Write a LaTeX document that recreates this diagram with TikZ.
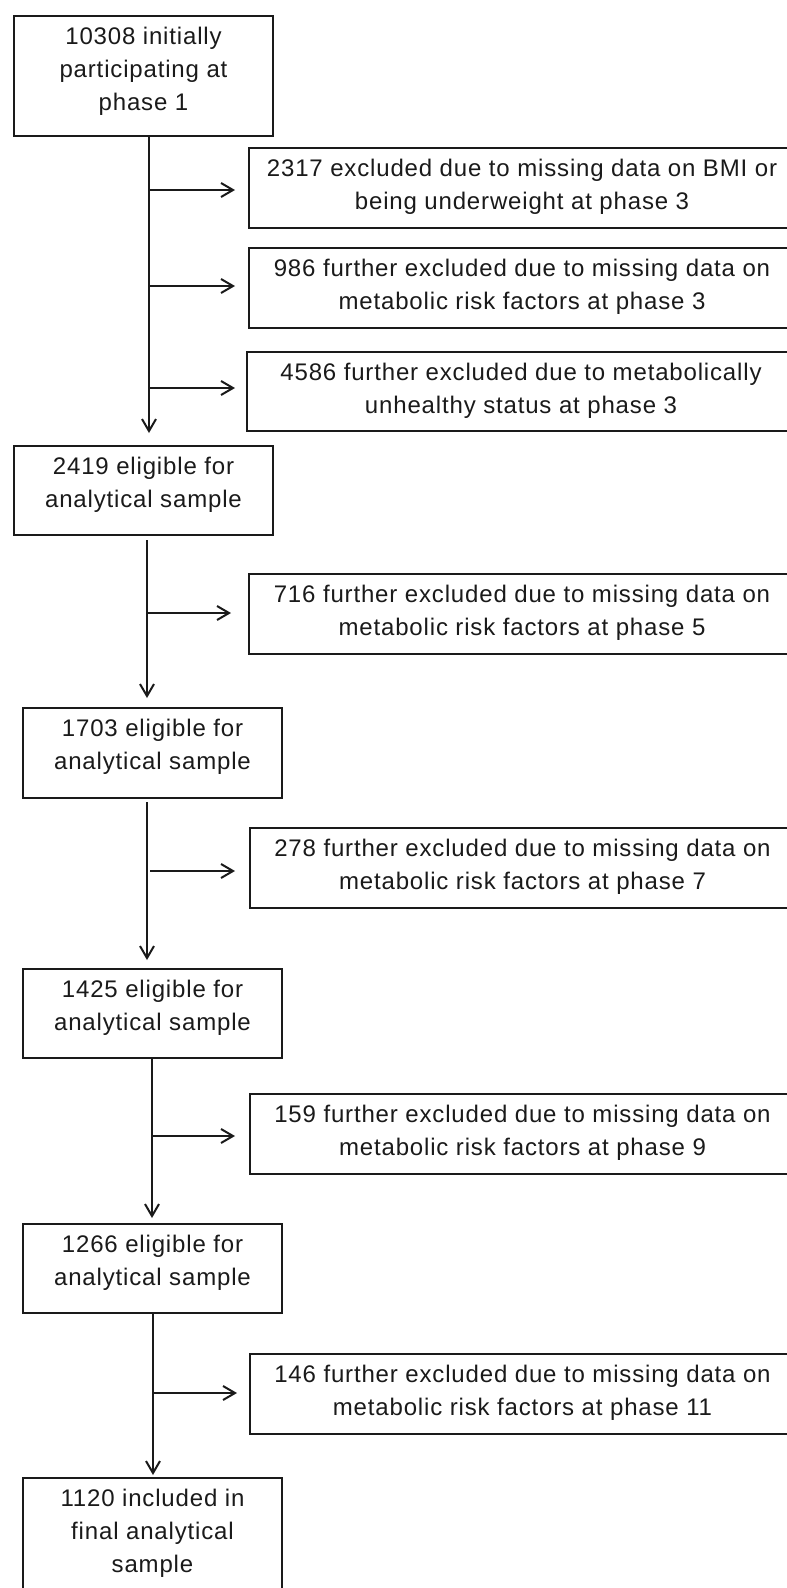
\documentclass[tikz,border=0pt]{standalone}
\usepackage{fontspec}
\setmainfont{Liberation Sans}[LetterSpace=3.5]
\usetikzlibrary{arrows.meta}
\definecolor{ink}{HTML}{1A1A1A}
% top-aligned text block of fixed size: first baseline 28pt below the top
\newcommand{\boxtxt}[3]{\parbox[c][#2][t]{#1}{\centering\rule{0pt}{28pt}#3}}
\begin{document}
\begin{tikzpicture}[x=1pt,y=-1pt,
  stagebox/.style={draw=ink, line width=2pt, inner sep=0pt, anchor=north west,
    text=ink, font=\fontsize{24pt}{33pt}\selectfont},
  arr/.style={draw=ink, line width=2pt, -{Straight Barb[length=12pt,width=14pt,line width=2pt]}}]
\useasboundingbox (0,0) rectangle (787,1588);
\clip (0,0) rectangle (787,1588);
\fill[white] (0,0) rectangle (787,1588);

% main column
\node[stagebox] (b1) at (13,15)   {\boxtxt{259pt}{120pt}{10308 initially\\participating at\\phase 1}};
\node[stagebox] (b2) at (13,445)  {\boxtxt{259pt}{89pt}{2419 eligible for\\analytical sample}};
\node[stagebox] (b3) at (22,707)  {\boxtxt{259pt}{90pt}{1703 eligible for\\analytical sample}};
\node[stagebox] (b4) at (22,968)  {\boxtxt{259pt}{89pt}{1425 eligible for\\analytical sample}};
\node[stagebox] (b5) at (22,1223) {\boxtxt{259pt}{89pt}{1266 eligible for\\analytical sample}};
\node[stagebox] (b6) at (22,1477) {\boxtxt{259pt}{120pt}{1120 included in\\final analytical\\sample}};

% exclusion column
\node[stagebox] (r1) at (248,147)  {\boxtxt{546pt}{80pt}{2317 excluded due to missing data on BMI or\\being underweight at phase 3}};
\node[stagebox] (r2) at (248,247)  {\boxtxt{546pt}{80pt}{986 further excluded due to missing data on\\metabolic risk factors at phase 3}};
\node[stagebox] (r3) at (246,351)  {\boxtxt{548pt}{79pt}{4586 further excluded due to metabolically\\unhealthy status at phase 3}};
\node[stagebox] (r4) at (248,573)  {\boxtxt{546pt}{80pt}{716 further excluded due to missing data on\\metabolic risk factors at phase 5}};
\node[stagebox] (r5) at (249,827)  {\boxtxt{545pt}{80pt}{278 further excluded due to missing data on\\metabolic risk factors at phase 7}};
\node[stagebox] (r6) at (249,1093) {\boxtxt{545pt}{80pt}{159 further excluded due to missing data on\\metabolic risk factors at phase 9}};
\node[stagebox] (r7) at (249,1353) {\boxtxt{545pt}{80pt}{146 further excluded due to missing data on\\metabolic risk factors at phase 11}};

% branch points on the vertical flow lines
\coordinate (j1) at (148,190);
\coordinate (j2) at (148,286);
\coordinate (j3) at (148,388);
\coordinate (j4) at (146,613);
\coordinate (j5) at (150,871);
\coordinate (j6) at (151,1136);
\coordinate (j7) at (152,1393);

% vertical flow
\draw[arr, shorten >=12pt] ([xshift=5.5pt]b1.south) -- ([xshift=5.5pt]b2.north);
\draw[arr, shorten <=4pt, shorten >=9pt] ([xshift=3.5pt]b2.south) -- ([xshift=-5.5pt]b3.north);
\draw[arr, shorten <=3pt, shorten >=8pt] ([xshift=-5.5pt]b3.south) -- ([xshift=-5.5pt]b4.north);
\draw[arr, shorten >=5pt] ([xshift=-0.5pt]b4.south) -- ([xshift=-0.5pt]b5.north);
\draw[arr, shorten >=2pt] ([xshift=0.5pt]b5.south) -- ([xshift=0.5pt]b6.north);

% exclusions
\draw[arr, shorten >=13pt] (j1) -- (j1 -| r1.west);
\draw[arr, shorten >=13pt] (j2) -- (j2 -| r2.west);
\draw[arr, shorten >=11pt] (j3) -- (j3 -| r3.west);
\draw[arr, shorten >=17pt] (j4) -- (j4 -| r4.west);
\draw[arr, shorten >=14pt] (j5) -- (j5 -| r5.west);
\draw[arr, shorten >=14pt] (j6) -- (j6 -| r6.west);
\draw[arr, shorten >=12pt] (j7) -- (j7 -| r7.west);
\end{tikzpicture}
\end{document}
